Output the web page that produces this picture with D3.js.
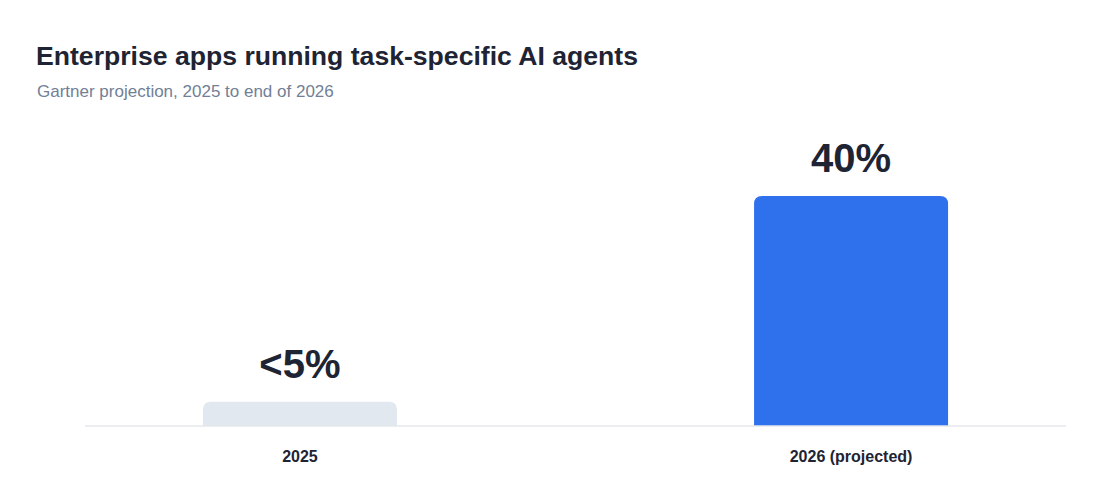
<!DOCTYPE html>
<html><head><meta charset="utf-8">
<script src="https://cdn.jsdelivr.net/npm/d3@7"></script>
<style>
html,body{margin:0;padding:0;background:#fff;}
svg{display:block;font-family:"Liberation Sans",Arial,Helvetica,sans-serif;}
</style></head>
<body>
<svg id="chart" width="1120" height="498"></svg>
<script>
const categories = ["2025", "2026 (projected)"];
const values = [4.2, 40];
const valueLabels = ["<5%", "40%"];
const barColors = ["#e2e8f0", "#2f70ec"];
const title = "Enterprise apps running task-specific AI agents";
const subtitle = "Gartner projection, 2025 to end of 2026";

const svg = d3.select("#chart");
const W = 1120, H = 498;
const x0 = 85, x1 = 1066, baseY = 426, topY = 196;

svg.append("text").attr("x", 36).attr("y", 65)
  .attr("font-size", 26.6).attr("font-weight", 700).attr("fill", "#1e2433")
  .text(title);
svg.append("text").attr("x", 37).attr("y", 97)
  .attr("font-size", 17).attr("fill", "#718096")
  .text(subtitle);

const x = d3.scaleBand().domain(categories).range([x0, x1])
  .paddingInner(0.648).paddingOuter(0.214);
const y = d3.scaleLinear().domain([0, 40]).range([baseY, topY]);

const r = 8;
function topRounded(xp, yp, w, h, rr) {
  rr = Math.min(rr, h, w / 2);
  return `M${xp},${yp + h}V${yp + rr}Q${xp},${yp} ${xp + rr},${yp}H${xp + w - rr}Q${xp + w},${yp} ${xp + w},${yp + rr}V${yp + h}Z`;
}

const data = categories.map((c, i) => ({c, v: values[i], label: valueLabels[i], color: barColors[i]}));

svg.append("g").selectAll("path").data(data).join("path")
  .attr("d", d => topRounded(x(d.c), y(d.v), x.bandwidth(), baseY - y(d.v), r))
  .attr("fill", d => d.color);

svg.append("g").selectAll("text").data(data).join("text")
  .attr("x", d => x(d.c) + x.bandwidth() / 2)
  .attr("y", d => y(d.v) - 24)
  .attr("text-anchor", "middle")
  .attr("font-size", 40).attr("font-weight", 700).attr("fill", "#1e2433")
  .text(d => d.label);

const axis = svg.append("g").attr("transform", `translate(0,${baseY})`)
  .call(d3.axisBottom(x).tickSize(0).tickPadding(0));
axis.select(".domain").attr("stroke", "#e5e7eb").attr("stroke-width", 1.5)
  .attr("d", `M${x0},0H${x1}`);
axis.selectAll(".tick text")
  .attr("y", 36).attr("dy", 0)
  .attr("font-family", "'Liberation Sans',Arial,sans-serif")
  .attr("font-size", 16).attr("font-weight", 700).attr("fill", "#1e2433");
</script>
</body></html>
